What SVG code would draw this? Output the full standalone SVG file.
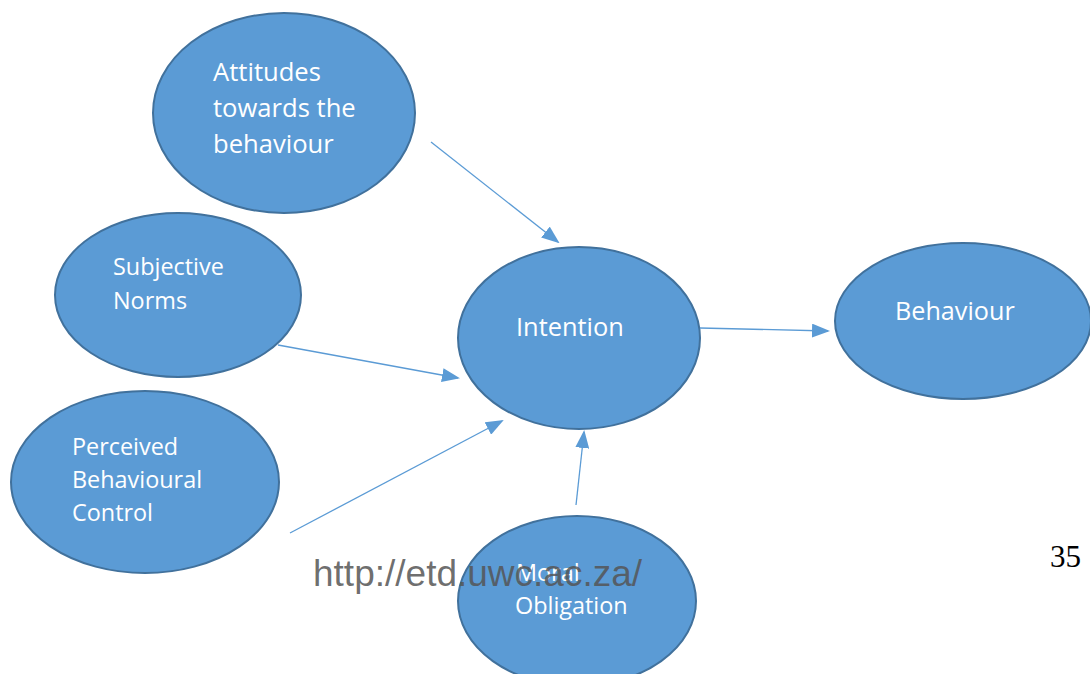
<svg xmlns="http://www.w3.org/2000/svg" width="1090" height="674" viewBox="0 0 1090 674">
<style>
.n{fill:#5B9BD5;stroke:#41719C;stroke-width:2}
.t{fill:#fff;font-family:"Open Sans","Noto Sans",sans-serif;font-size:23.4px}
.c{stroke:#5B9BD5;stroke-width:1.3;fill:none;marker-end:url(#ah)}
</style>
<defs>
<marker id="ah" markerWidth="18" markerHeight="14" refX="16" refY="7" orient="auto" markerUnits="userSpaceOnUse">
<path d="M0,0 L18,7 L0,14 z" fill="#5B9BD5"/>
</marker>
</defs>
<rect width="1090" height="674" fill="#fff"/>
<g id="attitudes"><ellipse class="n" cx="284" cy="113" rx="131" ry="100"/>
<text class="t" style="font-size:25.6px" x="213" y="81">Attitudes</text><text class="t" style="font-size:25.6px" x="213" y="117">towards the</text><text class="t" style="font-size:25.6px" x="213" y="153">behaviour</text></g>
<g id="subjective"><ellipse class="n" cx="178" cy="295" rx="123" ry="82"/>
<text class="t" style="font-size:23.4px" x="113" y="275">Subjective</text><text class="t" style="font-size:23.4px" x="113" y="309">Norms</text></g>
<g id="perceived"><ellipse class="n" cx="145" cy="482" rx="134" ry="91"/>
<text class="t" x="72" y="455">Perceived</text><text class="t" x="72" y="488">Behavioural</text><text class="t" x="72" y="521">Control</text></g>
<g id="intention"><ellipse class="n" cx="579" cy="338" rx="121" ry="91"/>
<text class="t" style="font-size:25.4px" x="516" y="336">Intention</text></g>
<g id="behaviour"><ellipse class="n" cx="963" cy="321" rx="128" ry="78"/>
<text class="t" style="font-size:25.2px" x="895" y="320">Behaviour</text></g>
<g id="moral"><ellipse class="n" cx="577" cy="601" rx="119" ry="85"/>
<text class="t" x="516" y="581">Moral</text><text class="t" x="515" y="614">Obligation</text></g>
<g id="connectors">
<line class="c" x1="431" y1="142" x2="558" y2="242"/>
<line class="c" x1="278" y1="345" x2="458" y2="378"/>
<line class="c" x1="290" y1="533" x2="502" y2="421"/>
<line class="c" x1="576" y1="505" x2="584" y2="432"/>
<line class="c" x1="700" y1="328" x2="828" y2="331"/>
</g>
<text x="313" y="586" style="font-family:'Liberation Sans',Arial,sans-serif;font-size:37px;fill:#555;fill-opacity:0.85">http://etd.uwc.ac.za/</text>
<text x="1050" y="567" style="font-family:'Liberation Serif','Times New Roman',serif;font-size:31px;fill:#000">35</text>
</svg>
